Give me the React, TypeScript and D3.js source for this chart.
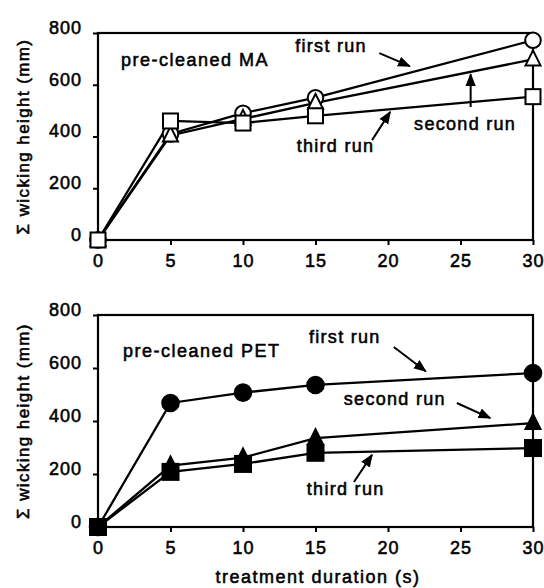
import React, { useEffect, useRef } from "react";
import * as d3 from "d3";

const durations = [0, 5, 10, 15, 30];
const xTicks = [0, 5, 10, 15, 20, 25, 30];
const yTicks = [0, 200, 400, 600, 800];

const maFirst = [0, 410, 490, 550, 772];
const maSecond = [0, 404, 468, 530, 698];
const maThird = [0, 460, 452, 480, 554];

const petFirst = [0, 468, 507, 536, 581];
const petSecond = [0, 232, 262, 335, 392];
const petThird = [0, 208, 238, 280, 298];

const panelTitles = ["pre-cleaned MA", "pre-cleaned PET"];
const yLabel = "\u03a3 wicking height (mm)";
const xLabel = "treatment duration (s)";

// annotations in data space: [label, textX, textY, arrowFromX, arrowFromY, arrowToX, arrowToY]
const maNotes: [string, number, number, number, number, number, number][] = [
  ["first run", 13.6, 727, 19.4, 722, 21.5, 672],
  ["second run", 21.8, 425, 25.7, 514, 25.7, 640],
  ["third run", 13.7, 342, 18.9, 386, 20.15, 495],
];
const petNotes: [string, number, number, number, number, number, number][] = [
  ["first run", 14.55, 695, 20.4, 679, 22.6, 588],
  ["second run", 16.95, 460, 24.75, 468, 27.05, 411],
  ["third run", 14.4, 121, 17.65, 170, 18.9, 272],
];

const FONT = "'Liberation Sans', Arial, Helvetica, sans-serif";
const TEXT_STROKE = 0.55;

type Panel = {
  top: number;
  bottom: number;
  title: string;
  series: number[][];
  filled: boolean;
  notes: [string, number, number, number, number, number, number][];
};

const panels: Panel[] = [
  { top: 33, bottom: 240, title: panelTitles[0], series: [maFirst, maSecond, maThird], filled: false, notes: maNotes },
  { top: 315, bottom: 527, title: panelTitles[1], series: [petFirst, petSecond, petThird], filled: true, notes: petNotes },
];

const x = d3.scaleLinear().domain([0, 30]).range([98, 533]);

function Axes({ y, top, bottom }: { y: d3.ScaleLinear<number, number>; top: number; bottom: number }) {
  const xRef = useRef<SVGGElement>(null);
  const yRef = useRef<SVGGElement>(null);
  useEffect(() => {
    const xa = d3.axisBottom(x).tickValues(xTicks).tickSize(5).tickPadding(9).tickFormat(d3.format("d"));
    const ya = d3.axisLeft(y).tickValues(yTicks).tickSize(5).tickPadding(11).tickFormat(d3.format("d"));
    const gx = d3.select(xRef.current!);
    gx.call(xa as any);
    const gy = d3.select(yRef.current!);
    gy.call(ya as any);
    [gx, gy].forEach((g) => {
      g.select(".domain").remove();
      g.selectAll(".tick line").attr("stroke", "#000").attr("stroke-width", 2);
      g.selectAll(".tick text")
        .attr("fill", "#000")
        .attr("font-family", FONT)
        .attr("font-size", 18)
        .attr("letter-spacing", 1)
        .attr("stroke", "#000")
        .attr("stroke-width", TEXT_STROKE);
    });
    gx.selectAll(".tick text").attr("dy", "0.71em");
    gy.selectAll(".tick text").attr("dy", "0.02em");
  }, [y]);
  return (
    <g>
      <g ref={xRef} transform={`translate(0,${bottom})`} />
      <g ref={yRef} transform={`translate(${x(0)},0)`} />
      <rect x={x(0)} y={top} width={x(30) - x(0)} height={bottom - top} fill="none" stroke="#000" strokeWidth={2.2} />
    </g>
  );
}

function Marker({ kind, cx, cy, filled }: { kind: number; cx: number; cy: number; filled: boolean }) {
  const fill = filled ? "#000" : "#fff";
  const sw = 2;
  if (kind === 0) return <circle cx={cx} cy={cy} r={filled ? 8.3 : 7.8} fill={fill} stroke="#000" strokeWidth={sw} />;
  if (kind === 1) {
    const h = 15;
    const w = 15;
    const p = d3.path();
    p.moveTo(cx, cy - h * 0.6);
    p.lineTo(cx + w / 2, cy + h * 0.4);
    p.lineTo(cx - w / 2, cy + h * 0.4);
    p.closePath();
    return <path d={p.toString()} fill={fill} stroke="#000" strokeWidth={sw} strokeLinejoin="miter" />;
  }
  const s = filled ? 16 : 15;
  return <rect x={cx - s / 2} y={cy - s / 2} width={s} height={s} fill={fill} stroke="#000" strokeWidth={sw} />;
}

function PanelView({ p, idx }: { p: Panel; idx: number }) {
  const y = d3.scaleLinear().domain([0, 800]).range([p.bottom, p.top]);
  const line = d3
    .line<number>()
    .x((_, i) => x(durations[i]))
    .y((v) => y(v));
  const mid = (p.top + p.bottom) / 2;
  return (
    <g>
      <Axes y={y} top={p.top} bottom={p.bottom} />
      <text
        transform={`translate(29,${mid}) rotate(-90)`}
        textAnchor="middle"
        fontFamily={FONT}
        fontSize={17}
        letterSpacing={1.4}
        stroke="#000"
        strokeWidth={TEXT_STROKE}
      >
        {yLabel}
      </text>
      {p.series.map((s, si) => (
        <path key={si} d={line(s) ?? ""} fill="none" stroke="#000" strokeWidth={2.3} />
      ))}
      {p.series.map((s, si) => (
        <g key={"m" + si}>
          {s.map((v, i) => (
            <Marker key={i} kind={si} cx={x(durations[i])} cy={y(v)} filled={p.filled} />
          ))}
        </g>
      ))}
      <text x={x(idx === 0 ? 1.59 : 1.72)} y={y(idx === 0 ? 672 : 641)} fontFamily={FONT} fontSize={18} letterSpacing={1.5} stroke="#000" strokeWidth={TEXT_STROKE}>
        {p.title}
      </text>
      {p.notes.map((n, ni) => (
        <g key={"n" + ni}>
          <text x={x(n[1])} y={y(n[2])} fontFamily={FONT} fontSize={18} letterSpacing={1.3} stroke="#000" strokeWidth={TEXT_STROKE}>
            {n[0]}
          </text>
          <line
            x1={x(n[3])}
            y1={y(n[4])}
            x2={x(n[5])}
            y2={y(n[6])}
            stroke="#000"
            strokeWidth={2}
            markerEnd="url(#arrowHead)"
          />
        </g>
      ))}
    </g>
  );
}

export default function App() {
  return (
    <svg width={544} height={588} style={{ position: "absolute", left: 0, top: 0, background: "#fff" }}>
      <defs>
        <marker id="arrowHead" viewBox="0 0 10 8" refX={9} refY={4} markerWidth={6.5} markerHeight={5.5} orient="auto" markerUnits="strokeWidth">
          <path d="M0,0 L10,4 L0,8 Z" fill="#000" />
        </marker>
      </defs>
      <rect width={544} height={588} fill="#fff" />
      {panels.map((p, i) => (
        <PanelView key={i} p={p} idx={i} />
      ))}
      <text x={318} y={583} textAnchor="middle" fontFamily={FONT} fontSize={18} letterSpacing={1.5} stroke="#000" strokeWidth={TEXT_STROKE}>
        {xLabel}
      </text>
    </svg>
  );
}
